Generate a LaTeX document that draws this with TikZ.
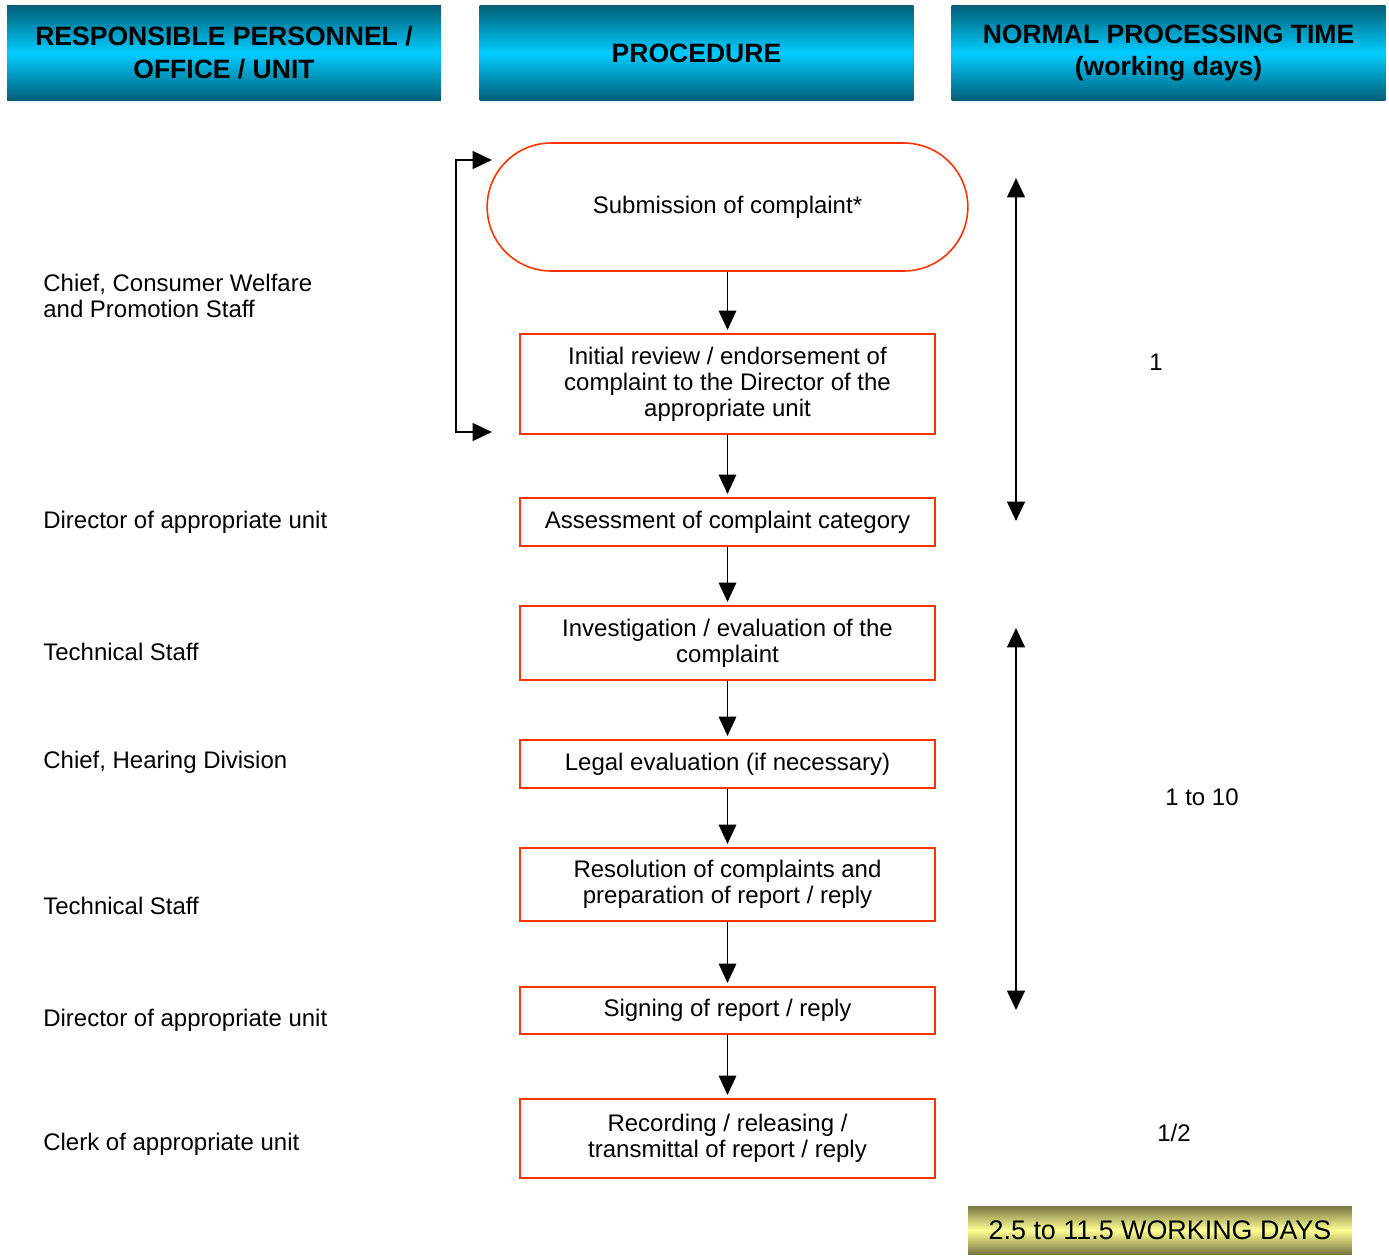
\documentclass[tikz,border=0pt]{standalone}
\usepackage{fontspec}
\setmainfont{Liberation Sans}
\usetikzlibrary{arrows.meta,shapes.misc}

\definecolor{flowred}{RGB}{255,51,0}
\definecolor{tealdark}{RGB}{0,94,118}
\definecolor{cyanmid}{RGB}{0,204,255}
\definecolor{olivedark}{RGB}{122,118,64}
\definecolor{yellowmid}{RGB}{255,255,150}

\begin{document}
\begin{tikzpicture}[x=0.02cm,y=-0.02cm,font=\fontsize{13.65}{14.7}\selectfont,
 hdr/.style={minimum width=8.68cm,minimum height=1.92cm,align=center,inner sep=0pt,
  top color=tealdark,bottom color=tealdark,middle color=cyanmid,
  font=\fontsize{15.1}{18.7}\selectfont\bfseries},
 proc/.style={draw=flowred,line width=1.6pt,minimum width=8.3cm,align=center,inner sep=0pt},
 who/.style={anchor=west,align=left,inner sep=0pt},
 flow/.style={-{Triangle[length=11pt,width=10pt]},line width=.8pt,shorten >=1.5pt},
 span/.style={{Triangle[length=11pt,width=10pt]}-{Triangle[length=11pt,width=10pt]},line width=1.4pt}]
\useasboundingbox (0,0) rectangle (1389,1255);
% column heads
\node[hdr] (h1) at (224,53) {RESPONSIBLE PERSONNEL /\\OFFICE / UNIT};
\node[hdr] (h2) at (696.5,53) {PROCEDURE};
\node[hdr] (h3) at (1168.5,53) {NORMAL PROCESSING TIME\\(working days)};
% procedure
\node[draw=flowred,line width=.9pt,rounded rectangle,minimum width=9.85cm,minimum height=2.56cm] (sub) at (727.5,207) {Submission of complaint*};
\node[proc,minimum height=2cm] (rev) at (727.5,384) {Initial review / endorsement of\\complaint to the Director of the\\appropriate unit};
\node[proc,minimum height=.96cm] (ass) at (727.5,522) {Assessment of complaint category};
\node[proc,minimum height=1.48cm] (inv) at (727.5,643) {Investigation / evaluation of the\\complaint};
\node[proc,minimum height=.96cm] (leg) at (727.5,764) {Legal evaluation (if necessary)};
\node[proc,minimum height=1.46cm] (res) at (727.5,884.5) {Resolution of complaints and\\preparation of report / reply};
\node[proc,minimum height=.94cm] (sig) at (727.5,1010.5) {Signing of report / reply};
\node[proc,minimum height=1.58cm] (rec) at (727.5,1138.5) {Recording / releasing /\\transmittal of report / reply};
\foreach \a/\b in {sub/rev,rev/ass,ass/inv,inv/leg,leg/res,res/sig,sig/rec}
  \draw[flow] (\a.south) -- (\b.north);
% loop back
\coordinate (lt) at (492,160);
\coordinate (lb) at (492,432);
\draw[span] (lt) -- ++(-36,0) |- (lb);
% responsible
\node[who] (w1) at (43,296) {Chief, Consumer Welfare\\and Promotion Staff};
\node[who] (w2) at (43,522) {Director of appropriate unit};
\node[who] (w3) at (43,652) {Technical Staff};
\node[who] (w4) at (43,762) {Chief, Hearing Division};
\node[who] (w5) at (43,906) {Technical Staff};
\node[who] (w6) at (43,1020) {Director of appropriate unit};
\node[who] (w7) at (43,1144) {Clerk of appropriate unit};
% time
\coordinate (t1) at (1016,178);
\coordinate (t2) at (1016,521);
\coordinate (t3) at (1016,628);
\coordinate (t4) at (1016,1010);
\draw[span] (t1) -- (t2);
\draw[span] (t3) -- (t4);
\node (d1) at (1156,362) {1};
\node (d2) at (1202,797) {1 to 10};
\node (d3) at (1174,1133) {1/2};
\node[minimum width=7.68cm,minimum height=.96cm,inner sep=0pt,top color=olivedark,bottom color=olivedark,middle color=yellowmid,font=\fontsize{15.3}{17}\selectfont] (tot) at (1160,1230) {2.5 to 11.5 WORKING DAYS};
\end{tikzpicture}
\end{document}
